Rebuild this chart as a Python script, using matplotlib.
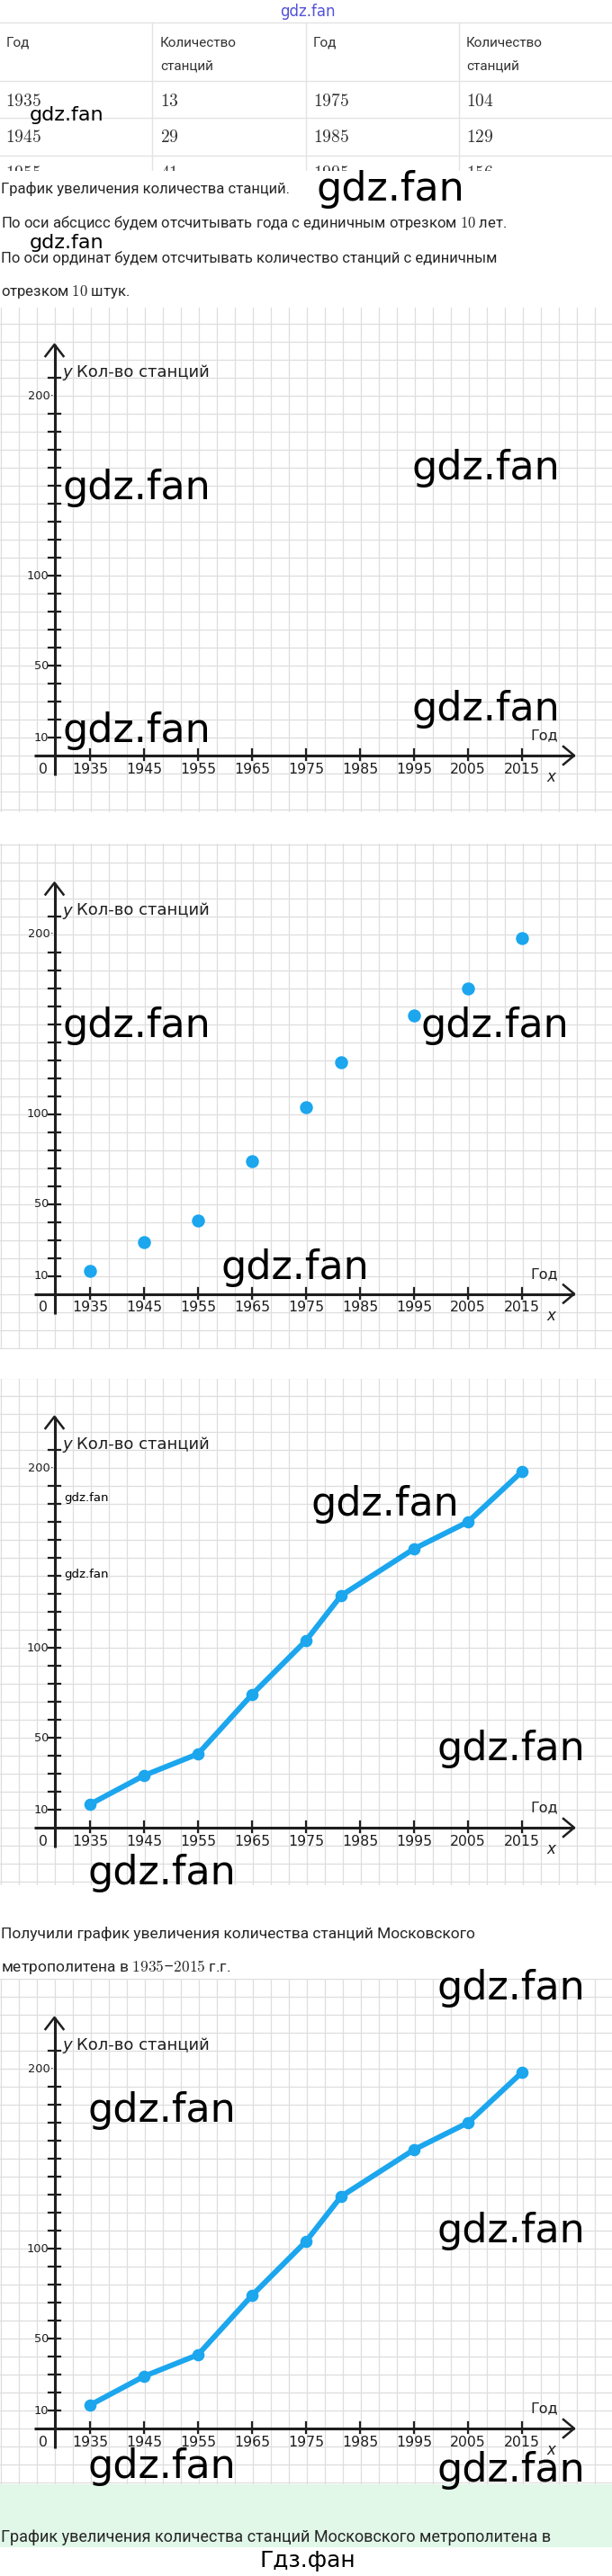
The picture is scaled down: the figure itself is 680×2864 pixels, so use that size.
import numpy as np
import matplotlib
matplotlib.use('Agg')
import matplotlib.pyplot as plt
from matplotlib.patches import Rectangle

plt.rcParams['mathtext.fontset'] = 'cm'

# table (only the first rows are visible on the page)
table_years_a = [1935, 1945, 1955]
table_counts_a = [13, 29, 41]
table_years_b = [1975, 1985, 1995]
table_counts_b = [104, 129, 156]

# chart data
tick_years = [1935, 1945, 1955, 1965, 1975, 1985, 1995, 2005, 2015]
point_years = [1935, 1945, 1955, 1965, 1975, 1981.5, 1995, 2005, 2015]
stations = [13, 29, 41, 74, 104, 129, 155, 170, 198]
y_tick_values = [10, 20, 30, 40, 50, 60, 70, 80, 90, 100, 110, 120, 130,
                 140, 150, 160, 170, 180, 190, 210]
y_label_values = [10, 50, 100, 200]
y_label_texts = ['10', '50', '100', '200·']

W, H = 680, 2864
BLUE = '#1ba6ee'
INK = '#1e1e1e'
GRID = '#dedede'
TXT = ['Roboto', 'DejaVu Sans']

fig = plt.figure(figsize=(W / 100, H / 100), dpi=100)
fig.patch.set_facecolor('white')


def fx(px):
    return px / W


def fy(py):
    return 1 - py / H


def yr(px):
    # 6 px per year, the 1935 tick sits at x = 100 px
    return 1935 + (px - 100) / 6.0


def page_text(x, y, s, size=12, ha='left', **kw):
    kw.setdefault('family', TXT)
    kw.setdefault('color', '#262626')
    fig.text(fx(x), fy(y), s, fontsize=size, ha=ha, va='center', **kw)


def wm(x, y, size=32):
    fig.text(fx(x), fy(y), 'gdz.fan', fontsize=size, family='DejaVu Sans',
             color='black', ha='left', va='center', zorder=10)


# background: green band at the bottom
bg = fig.add_axes([0, 0, 1, 1], zorder=-2)
bg.set_xlim(0, W)
bg.set_ylim(H, 0)
bg.axis('off')
bg.add_patch(Rectangle((0, 2762), W, 70, color='#e1f7e8', lw=0))

# table, cut off at y = 190 px
tab = fig.add_axes([0, fy(190), 1, 190 / H], zorder=-1)
tab.set_xlim(0, W)
tab.set_ylim(190, 0)
tab.axis('off')
for ly in [25, 90, 131, 173]:
    tab.plot([0, W], [ly, ly], color='#e3e3e3', lw=1)
for lx in [169, 339.5, 509.5]:
    tab.plot([lx, lx], [25, 190], color='#e3e3e3', lw=1)
col_x = [6.5, 178, 348, 518]
for cx, head in zip(col_x, ['Год', 'Количество', 'Год', 'Количество']):
    tab.text(cx, 48, head, fontsize=11, family=TXT, color='#333333', va='center')
for cx in [col_x[1], col_x[3]]:
    tab.text(cx, 73, 'станций', fontsize=11, family=TXT, color='#333333', va='center')
row_y = [112, 152, 192]
for i in range(3):
    cells = [table_years_a[i], table_counts_a[i], table_years_b[i], table_counts_b[i]]
    for cx, val in zip(col_x, cells):
        tab.text(cx, row_y[i], f'${val}$', fontsize=14, color='#333333',
                 va='center', clip_on=True)

# page text
page_text(342, 13, 'gdz.fan', size=12, ha='center', color='#5252d8', family='DejaVu Sans')
page_text(1, 210, 'График увеличения количества станций.')
page_text(1, 248, 'По оси абсцисс будем отсчитывать года с единичным отрезком $10$ лет.')
page_text(1, 287, 'По оси ординат будем отсчитывать количество станций с единичным')
page_text(1, 325, 'отрезком $10$ штук.')
page_text(1, 2150, 'Получили график увеличения количества станций Московского', size=12.5)
page_text(1, 2187, 'метрополитена в $1935$–$2015$ г.г.', size=12.5)
page_text(1, 2821, 'График увеличения количества станций Московского метрополитена в', size=13)
fig.text(fx(342), fy(2847), 'Гдз.фан', fontsize=18, family='DejaVu Sans',
         color='black', ha='center', va='center')


def draw_chart(top, bottom, axis_y, mode=None):
    ax = fig.add_axes([0, fy(bottom), 1, (bottom - top) / H])
    ax.set_xlim(yr(0), yr(W))
    ax.set_ylim(-(bottom - axis_y) / 2.0, (axis_y - top) / 2.0)
    ax.axis('off')

    # squared paper, 20 px cells
    for gx in np.arange(0, W + 1, 20):
        ax.axvline(yr(gx + 0.5), color=GRID, lw=0.9, zorder=0)
    for gy in np.arange(-30, 260, 10):
        ax.axhline(gy, color=GRID, lw=0.9, zorder=0)

    yax = yr(60.5)
    top_v = 228.5
    ax.plot([yax, yax], [-11, top_v], color=INK, lw=2.2, solid_capstyle='butt', zorder=2)
    ax.plot([yax - 10 / 6, yax, yax + 10 / 6], [top_v - 6.5, top_v, top_v - 6.5],
            color=INK, lw=1.8, zorder=2)
    x_end = yr(638)
    ax.plot([yr(38), x_end], [0, 0], color=INK, lw=2.2, solid_capstyle='butt', zorder=2)
    ax.plot([x_end - 2, x_end, x_end - 2], [5, 0, -5], color=INK, lw=1.8, zorder=2)
    for v in y_tick_values:
        ax.plot([yax - 1.1, yax + 1.1], [v, v], color=INK, lw=1.6, zorder=2)
    for t in tick_years:
        ax.plot([t, t], [-2.5, 3.5], color=INK, lw=1.6, zorder=2)

    for v, s in zip(y_label_values, y_label_texts):
        ax.text(yr(54) if v != 200 else yr(59.5), v, s, fontsize=9.3,
                family='DejaVu Sans', color=INK, ha='right', va='center')
    for t in tick_years:
        ax.text(t, -7.5, str(t), fontsize=11.3, family='DejaVu Sans',
                color=INK, ha='center', va='center')
    ax.text(yr(48), -7.5, '0', fontsize=11.3, family='DejaVu Sans', color=INK,
            ha='center', va='center')
    ax.text(yr(620), 11, 'Год', fontsize=11.5, family='DejaVu Sans', color=INK,
            ha='right', va='center')
    ax.text(yr(612), -12, 'x', fontsize=12, family='DejaVu Sans', style='italic',
            color=INK, ha='center', va='center')
    ax.text(yr(69), 213, 'y', fontsize=13, family='DejaVu Sans', style='italic',
            color=INK, ha='left', va='center')
    ax.text(yr(85), 213, 'Кол-во станций', fontsize=13, family='DejaVu Sans',
            color=INK, ha='left', va='center')

    if mode == 'points':
        ax.plot(point_years, stations, 'o', ms=9.4, color=BLUE, ls='none', zorder=4)
    elif mode == 'line':
        ax.plot(point_years, stations, '-o', ms=8.8, lw=4.3, color=BLUE, zorder=4)
    return ax


draw_chart(342, 903, 840)
draw_chart(938, 1500, 1438.5, 'points')
draw_chart(1533, 2096, 2032, 'line')
draw_chart(2200, 2762, 2700, 'line')

# watermarks
wm(32.5, 128, 16)
wm(351, 211)
wm(32.5, 270, 16)
for x, y in [(69, 543), (457, 520), (69, 812), (457, 789)]:
    wm(x, y)
for x, y in [(69, 1140), (468, 1140), (245, 1410)]:
    wm(x, y)
for x, y in [(345, 1673), (486, 1945), (98, 2082)]:
    wm(x, y)
wm(71.5, 1666, 9.5)
wm(71.5, 1750.5, 9.5)
for x, y in [(486, 2211), (98, 2347), (486, 2480), (98, 2742), (486, 2747)]:
    wm(x, y)

fig.savefig('out.png', dpi=100)
